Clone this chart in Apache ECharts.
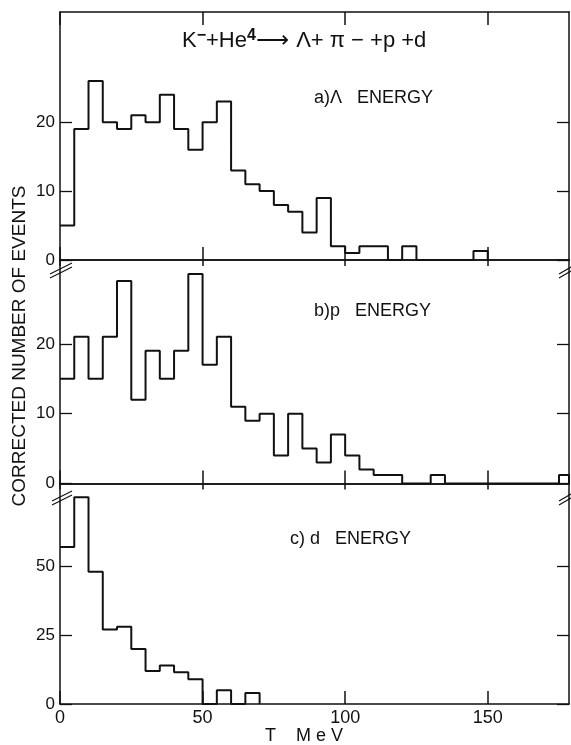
<!DOCTYPE html>
<html>
<head>
<meta charset="utf-8">
<script src="https://cdn.jsdelivr.net/npm/echarts@6.0.0/dist/echarts.min.js"></script>
<style>
html,body{margin:0;padding:0;background:#fff;}
#chart{width:571px;height:745px;}
</style>
</head>
<body>
<div id="chart"></div>
<script>
// ---- data (5 MeV bins starting at 0) ----
var binWidth = 5;
var xMax = 178.5;
var lambdaCounts = [5, 19, 26, 20, 19, 21, 20, 24, 19, 16, 20, 23, 13, 11, 10, 8, 7, 4, 9, 2, 1, 2, 2, 0, 2, 0, 0, 0, 0, 1.3];
var protonCounts = [15, 21, 15, 21, 29, 12, 19, 15, 19, 30, 17, 21, 11, 9, 10, 4, 10, 5, 3, 7, 4, 2, 1.2, 1.2, 0, 0, 1.2, 0, 0, 0, 0, 0, 0, 0, 0, 1.2];
var deuteronCounts = [57, 75, 48, 27, 28, 20, 12, 14, 11.5, 9, 0, 5, 0, 4];
var xTicks = [0, 50, 100, 150];
var yTicksA = [0, 10, 20];
var yTicksB = [0, 10, 20];
var yTicksC = [0, 25, 50];
var yMaxA = 36, yMaxB = 32, yMaxC = 80;

function stepPoints(vals) {
  var pts = [];
  for (var i = 0; i < vals.length; i++) pts.push([i * binWidth, vals[i]]);
  var end = Math.min(vals.length * binWidth, xMax);
  pts.push([end, vals[vals.length - 1]]);
  pts.push([end, 0]);
  return pts;
}

var FONT = '"Liberation Sans", Arial, sans-serif';
var INK = '#111';
var axisLineStyle = {color: INK, width: 1.5};

var grids = [
  {left: 60, right: 2, top: 12, height: 248},
  {left: 60, right: 2, top: 260, height: 223.5},
  {left: 60, right: 2, top: 483.5, height: 220.5}
];

function xAx(grid, pos, showLabels, tickLen) {
  return {
    type: 'value', gridIndex: grid, position: pos, min: 0, max: xMax, interval: 50,
    axisLine: {show: true, onZero: false, lineStyle: axisLineStyle},
    axisTick: {show: true, inside: true, length: tickLen, lineStyle: {color: INK, width: 1.5}, customValues: xTicks},
    axisLabel: {show: showLabels, customValues: xTicks, fontSize: 18, color: INK, fontFamily: FONT, margin: 5},
    splitLine: {show: false}
  };
}
function yAx(grid, pos, max, ticks, showLabels) {
  return {
    type: 'value', gridIndex: grid, position: pos, min: 0, max: max,
    axisLine: {show: true, onZero: false, lineStyle: axisLineStyle},
    axisTick: {show: true, inside: true, length: 12, lineStyle: {color: INK, width: 1.3}, customValues: ticks},
    axisLabel: {show: showLabels, customValues: ticks, fontSize: 17, color: INK, fontFamily: FONT, margin: 5},
    splitLine: {show: false}
  };
}

var xAxes = [
  xAx(0, 'bottom', false, 13), xAx(0, 'top', false, 13),
  xAx(1, 'bottom', false, 13), xAx(1, 'top', false, 6),
  xAx(2, 'bottom', true, 13), xAx(2, 'top', false, 6)
];
var yAxes = [
  yAx(0, 'left', yMaxA, yTicksA, true), yAx(0, 'right', yMaxA, yTicksA, false),
  yAx(1, 'left', yMaxB, yTicksB, true), yAx(1, 'right', yMaxB, yTicksB, false),
  yAx(2, 'left', yMaxC, yTicksC, true), yAx(2, 'right', yMaxC, yTicksC, false)
];

function hist(vals, idx) {
  return {
    type: 'line', step: 'end', data: stepPoints(vals), xAxisIndex: idx, yAxisIndex: idx,
    symbol: 'none', silent: true, animation: false, clip: true,
    lineStyle: {color: INK, width: 2}
  };
}

function breakMark(x1, y1, x2, y2) {
  return {type: 'group', children: [
    {type: 'line', shape: {x1: x1, y1: y1, x2: x2, y2: y2}, style: {stroke: '#fff', lineWidth: 6}},
    {type: 'line', shape: {x1: x1, y1: y1 - 2, x2: x2, y2: y2 - 2}, style: {stroke: INK, lineWidth: 1.2}},
    {type: 'line', shape: {x1: x1, y1: y1 + 2, x2: x2, y2: y2 + 2}, style: {stroke: INK, lineWidth: 1.2}}
  ]};
}

var chart = echarts.init(document.getElementById('chart'), null, {renderer: 'canvas'});
chart.setOption({
  animation: false,
  backgroundColor: '#fff',
  grid: grids,
  xAxis: xAxes,
  yAxis: yAxes,
  series: [hist(lambdaCounts, 0), hist(protonCounts, 2), hist(deuteronCounts, 4)],
  graphic: [
    breakMark(50, 276, 72, 265),
    breakMark(52, 503, 72, 493),
    breakMark(559, 276, 571, 269),
    breakMark(559, 503, 571, 496),
    {type: 'text', left: 182, top: 28, style: {
      text: '{n|K}{s|−}{n|+He}{s|4}{a|⟶ }{n|Λ+ π − +p +d}',
      rich: {
        n: {fontSize: 22, fontFamily: FONT, fill: INK},
        s: {fontSize: 16, fontFamily: FONT, fill: INK, fontWeight: 'bold', verticalAlign: 'top', padding: [0, 0, 10, 0]},
        a: {fontSize: 23, fontFamily: '"DejaVu Sans", sans-serif', fill: INK}
      }
    }},
    {type: 'text', left: 314, top: 89, style: {text: 'a)Λ   ENERGY', fontSize: 18, fontFamily: FONT, fill: INK}},
    {type: 'text', left: 314, top: 302, style: {text: 'b)p   ENERGY', fontSize: 18, fontFamily: FONT, fill: INK}},
    {type: 'text', left: 290, top: 530, style: {text: 'c) d   ENERGY', fontSize: 18, fontFamily: FONT, fill: INK}},
    {type: 'text', x: 20, y: 346, rotation: Math.PI / 2, style: {
      text: 'CORRECTED NUMBER OF EVENTS', fontSize: 19, fontFamily: FONT, fill: INK,
      align: 'center', verticalAlign: 'middle'
    }},
    {type: 'text', left: 265, top: 727, style: {text: 'T    M e V', fontSize: 18, fontFamily: FONT, fill: INK}}
  ]
});
</script>
</body>
</html>
